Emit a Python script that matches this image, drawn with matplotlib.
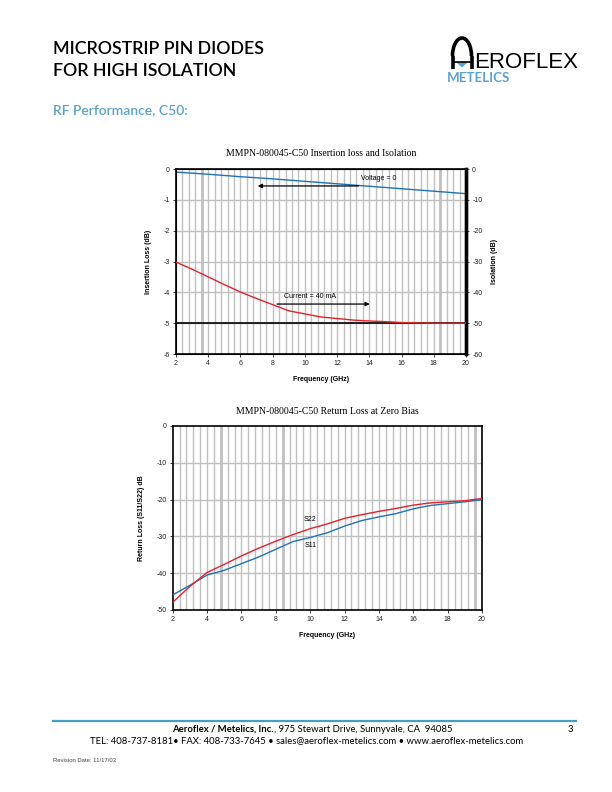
import matplotlib
matplotlib.use("Agg")
import matplotlib.pyplot as plt
import numpy as np
from matplotlib.patches import Polygon, Arc

plt.rcParams["axes.unicode_minus"] = False

# ---- data: insertion loss / isolation chart
freq_il = [2, 4, 6, 8, 10, 12, 14, 16, 18, 20]
insertion_loss = [-0.10, -0.17, -0.25, -0.32, -0.40, -0.48, -0.56, -0.64, -0.72, -0.80]

freq_iso = [2, 3, 4, 5, 6, 7, 8, 9, 10, 11, 12, 13, 14, 15, 16, 17, 18, 19, 20]
isolation = [-30.2, -32.5, -35.0, -37.5, -39.9, -42.0, -44.0, -46.0, -47.0, -48.0,
             -48.5, -49.0, -49.3, -49.5, -49.8, -49.9, -50.0, -50.0, -50.0]

# ---- data: return loss chart
freq_rl = [2, 3, 4, 5, 6, 7, 8, 9, 10, 11, 12, 13, 14, 15, 16, 17, 18, 19, 20]
s11 = [-45.9, -43.3, -40.5, -39.2, -37.4, -35.6, -33.5, -31.4, -30.3, -29.0,
       -27.2, -25.7, -24.7, -23.8, -22.5, -21.6, -21.1, -20.6, -20.0]
s22 = [-47.9, -43.6, -39.8, -37.6, -35.3, -33.2, -31.3, -29.5, -27.9, -26.6,
       -25.1, -24.1, -23.2, -22.4, -21.5, -20.9, -20.6, -20.3, -19.7]

x_ticks = [2, 4, 6, 8, 10, 12, 14, 16, 18, 20]
il_ticks = [0, -1, -2, -3, -4, -5, -6]
iso_ticks = [0, -10, -20, -30, -40, -50, -60]
rl_ticks = [0, -10, -20, -30, -40, -50]

grid_x = np.arange(2, 20.01, 0.4)
thick_grid_1 = [3.6, 18.4]
thick_grid_2 = [4.8, 8.4, 19.6]

SANS = "Liberation Sans"
SERIF = "Liberation Serif"
BLUE = "#1f72b8"
RED = "#e8202a"
LOGO_BLUE = "#5aa3cf"
GRID = "#c0c0c0"

fig = plt.figure(figsize=(6.12, 7.92), dpi=100)
bg = fig.add_axes([0, 0, 1, 1])
bg.set_xlim(0, 612)
bg.set_ylim(792, 0)
bg.axis("off")

# ---- header
bg.text(53, 49, "MICROSTRIP PIN DIODES", fontsize=12.8, family="Lato",
        weight="semibold", va="center", ha="left")
bg.text(53, 71, "FOR HIGH ISOLATION", fontsize=12.8, family="Lato",
        weight="semibold", va="center", ha="left")
bg.text(53, 110, "RF Performance, C50:", fontsize=10, family="Lato",
        weight="semibold", color=LOGO_BLUE, va="center", ha="left")

# logo: arch "A" + EROFLEX + METELICS (y axis points down here)
bg.add_patch(Arc((462, 56), 19, 36, theta1=180, theta2=360, lw=2.6, color="black"))
bg.plot([452.5, 452.5], [56, 68.5], color="black", lw=2.6, solid_capstyle="butt")
bg.plot([471.5, 471.5], [56, 68.5], color="black", lw=2.6, solid_capstyle="butt")
bg.plot([452.5, 471.5], [61.5, 61.5], color="black", lw=1.2)
bg.add_patch(Polygon([[456, 62], [468, 62], [462, 67.5]], closed=True,
                     color=LOGO_BLUE, lw=0))
bg.text(474, 68.5, "EROFLEX", fontsize=16, family=SANS,
        va="baseline", ha="left")
bg.text(447, 82, "METELICS", fontsize=9.6, family="Lato", weight="bold",
        color=LOGO_BLUE, va="baseline", ha="left")


def style_axes(ax, yticks, ylim, thick):
    ax.set_xlim(2, 20)
    ax.set_ylim(*ylim)
    ax.set_xticks(x_ticks)
    ax.set_yticks(yticks)
    for gx in grid_x[1:-1]:
        lw = 2.0 if any(abs(gx - t) < 0.01 for t in thick) else 1.0
        ax.axvline(gx, color=GRID, lw=lw, zorder=0)
    for gy in yticks[1:-1]:
        ax.axhline(gy, color=GRID, lw=1.0, zorder=0)
    ax.tick_params(axis="both", labelsize=5, direction="out", length=2.5,
                   width=0.6, pad=2, colors="#222222")
    for lab in ax.get_xticklabels() + ax.get_yticklabels():
        lab.set_family(SANS)
    for s in ax.spines.values():
        s.set_linewidth(1.2)
        s.set_color("black")


# ---- chart 1: insertion loss and isolation
ax1 = fig.add_axes([176 / 612, 1 - 354 / 792, 290 / 612, 185 / 792])
style_axes(ax1, il_ticks, (-6, 0), thick_grid_1)
ax1.axhline(-5, color="black", lw=1.2, zorder=1)
ax1.plot(freq_il, insertion_loss, color=BLUE, lw=1.0, zorder=3)
ax1.set_ylabel("Insertion Loss (dB)", fontsize=5, family=SANS, weight="bold",
               labelpad=8)
ax1.set_xlabel("Frequency (GHz)", fontsize=5, family=SANS, weight="bold",
               labelpad=6)
ax1.set_title("MMPN-080045-C50 Insertion loss and Isolation", fontsize=7,
              family=SERIF, pad=9)
ax1.spines["right"].set_linewidth(2.4)

ax1r = ax1.twinx()
ax1r.set_ylim(-60, 0)
ax1r.set_yticks(iso_ticks)
ax1r.plot(freq_iso, isolation, color=RED, lw=1.0, zorder=3)
ax1r.tick_params(axis="y", labelsize=5, direction="out", length=2.5,
                 width=0.6, pad=2, colors="#222222")
for lab in ax1r.get_yticklabels():
    lab.set_family(SANS)
ax1r.spines["right"].set_linewidth(2.4)
ax1r.set_ylabel("Isolation (dB)", fontsize=5, family=SANS, weight="bold",
                labelpad=6)

ax1.annotate("", xy=(6.9, -0.55), xytext=(13.5, -0.55),
             arrowprops=dict(arrowstyle="-|>", color="black", lw=0.9,
                             mutation_scale=6))
ax1.text(14.6, -0.32, "Voltage = 0", fontsize=5, family=SANS, ha="center",
         va="center")
ax1.annotate("", xy=(14.2, -4.38), xytext=(8.1, -4.38),
             arrowprops=dict(arrowstyle="-|>", color="black", lw=0.9,
                             mutation_scale=6))
ax1.text(10.3, -4.12, "Current = 40 mA", fontsize=5, family=SANS, ha="center",
         va="center")

# ---- chart 2: return loss
ax2 = fig.add_axes([172.7 / 612, 1 - 610 / 792, 309.3 / 612, 184 / 792])
style_axes(ax2, rl_ticks, (-50, 0), thick_grid_2)
ax2.plot(freq_rl, s11, color=BLUE, lw=1.0, zorder=3)
ax2.plot(freq_rl, s22, color=RED, lw=1.0, zorder=3)
ax2.text(10.0, -25.4, "S22", fontsize=5, family=SANS, ha="center", va="center")
ax2.text(10.0, -32.4, "S11", fontsize=5, family=SANS, ha="center", va="center")
ax2.set_ylabel("Return Loss (S11/S22) dB", fontsize=5, family=SANS,
               weight="bold", labelpad=8)
ax2.set_xlabel("Frequency (GHz)", fontsize=5, family=SANS, weight="bold",
               labelpad=6)
ax2.set_title("MMPN-080045-C50 Return Loss at Zero Bias", fontsize=7,
              family=SERIF, pad=9)

# ---- footer
bg.plot([53, 576], [721, 721], color="#4b9cc4", lw=1.6)
bold = bg.text(172, 729, "Aeroflex / Metelics, Inc.", fontsize=6.8,
               family="Lato", weight="bold", va="center", ha="left")
bg.annotate(", 975 Stewart Drive, Sunnyvale, CA  94085", xy=(1, 0.5),
            xycoords=bold, fontsize=6.8, family="Lato", va="center", ha="left")
bg.text(570, 729, "3", fontsize=6.8, family="Lato", va="center", ha="center")
bg.text(307, 741, "TEL: 408-737-8181\u2022 FAX: 408-733-7645 \u2022 "
        "sales@aeroflex-metelics.com \u2022 www.aeroflex-metelics.com",
        fontsize=6.8, family="Lato", va="center", ha="center")
bg.text(53, 760, "Revision Date: 11/17/03", fontsize=4.2, family=SANS,
        color="#444444", va="center", ha="left")

fig.savefig("out.png", dpi=100)
